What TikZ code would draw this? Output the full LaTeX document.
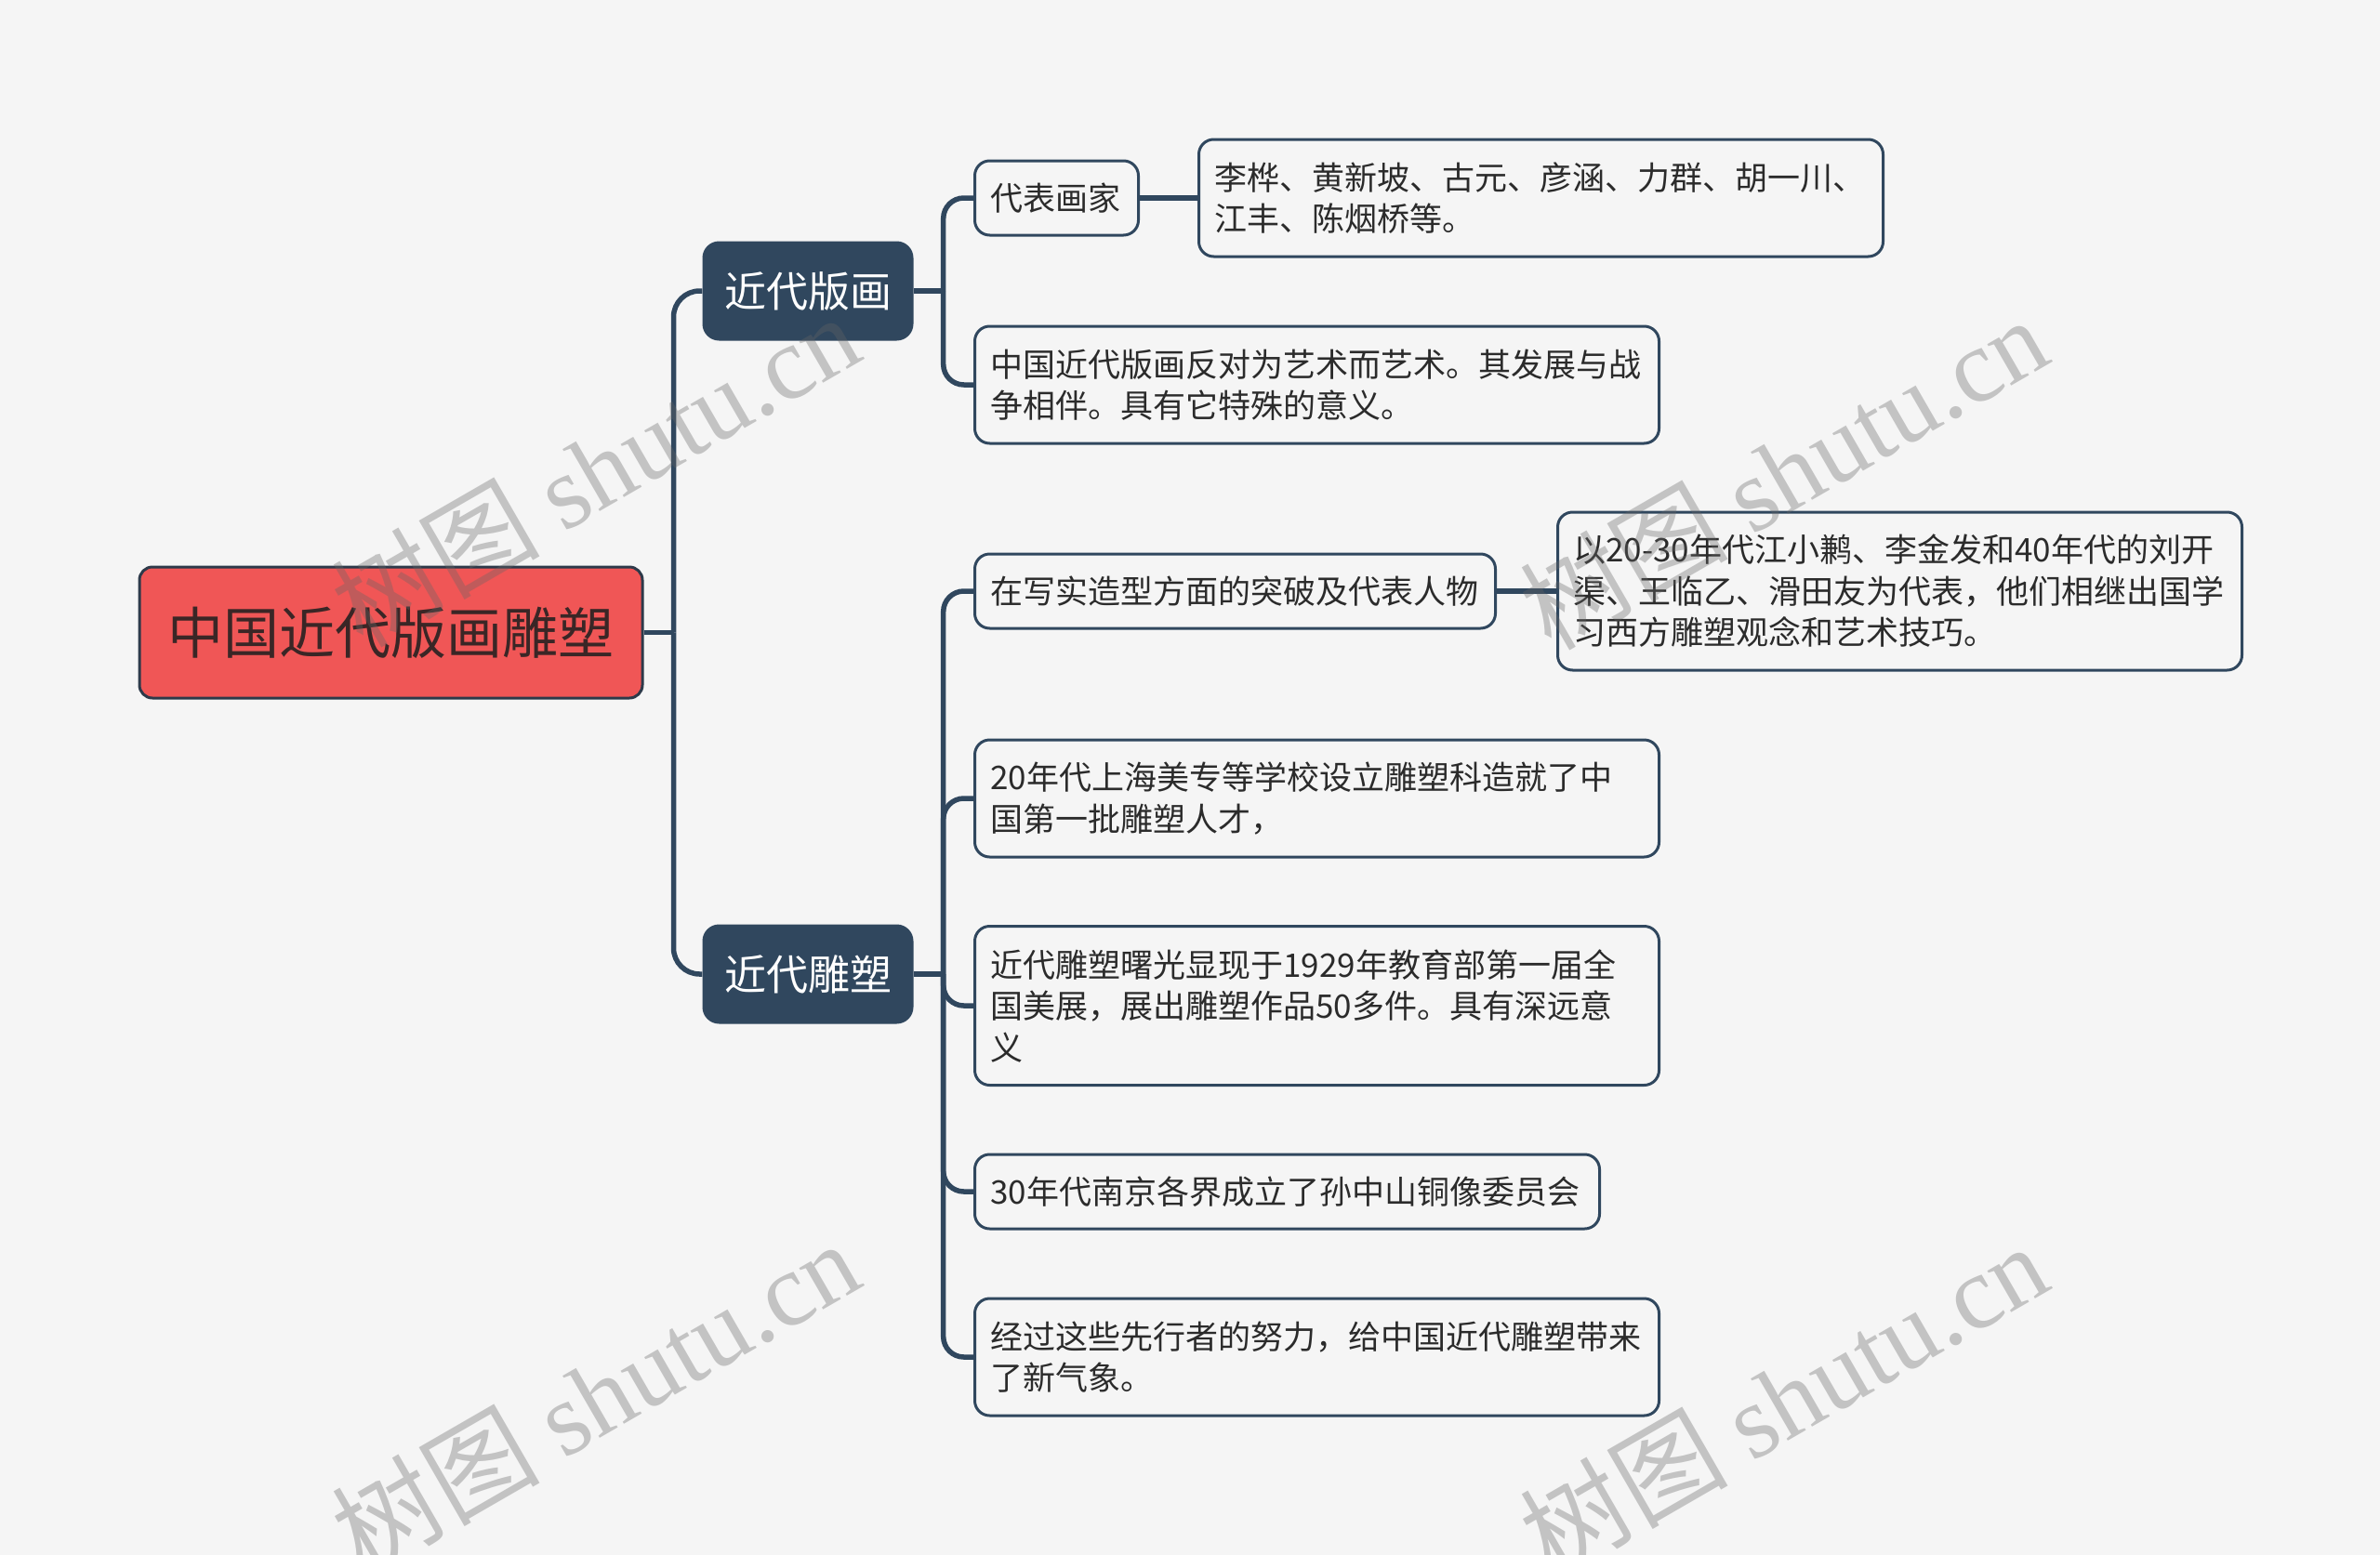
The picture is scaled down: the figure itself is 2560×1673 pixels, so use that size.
\documentclass[tikz,border=0pt]{standalone}
\usepackage{fontspec}
\setmainfont{Noto Sans CJK SC}
\newfontfamily\wmlatin{Liberation Serif}
\newfontfamily\wmcjk{Noto Sans CJK SC}
\definecolor{bgc}{HTML}{F5F5F5}
\definecolor{navy}{HTML}{30475E}
\definecolor{rootred}{HTML}{F05656}
\definecolor{rootline}{HTML}{2E3A4A}
\definecolor{roottext}{HTML}{3A2626}
\definecolor{leaftext}{HTML}{2B2B2B}
\pgfdeclarelayer{bglayer}
\pgfdeclarelayer{edges}
\pgfsetlayers{bglayer,edges,main}
\tikzset{
  rootbox/.style={draw=rootline, line width=3pt, fill=rootred, rounded corners=14pt,
    text=roottext, font=\fontsize{60}{72}\selectfont, inner sep=0pt,
    minimum width=541pt, minimum height=141pt},
  branchbox/.style={fill=navy, rounded corners=18pt, text=white,
    font=\fontsize{45}{54}\selectfont, inner sep=0pt,
    minimum width=227pt, minimum height=107pt},
  leafbox/.style={draw=navy, line width=3pt, fill=bgc, rounded corners=16pt,
    text=leaftext, font=\fontsize{35}{44.5}\selectfont, align=left, anchor=west,
    inner xsep=17pt, inner ysep=0pt},
  conn/.style={draw=navy, line width=5.5pt},
  wm/.style={text=black!60, opacity=0.35, font=\fontsize{112}{120}\selectfont, rotate=30}
}
\begin{document}
\begin{tikzpicture}[x=1pt,y=-1pt]
\begin{pgfonlayer}{bglayer}
\fill[bgc] (0,0) rectangle (2560,1673);
\end{pgfonlayer}
\useasboundingbox (0,0) rectangle (2560,1673);

% root and branches
\node[rootbox] (root) at (420.5,680.5) {中国近代版画雕塑};
\node[branchbox] (b1) at (869,313) {近代版画};
\node[branchbox] (b2) at (869,1048) {近代雕塑};

% leaves of branch 1
\node[leafbox, minimum width=176pt, minimum height=80pt, text width=142pt] (l1) at (1047,213) {代表画家};
\node[leafbox, minimum width=736pt, minimum height=126pt, text width=702pt] (l1a) at (1288,213)
  {李桦、黄新坡、古元、彦涵、力群、胡一川、\\江丰、陈烟桥等。};
\node[leafbox, minimum width=736pt, minimum height=126pt, text width=702pt] (l2) at (1047,414)
  {中国近代版画反对为艺术而艺术。其发展与战\\争相伴。具有它特殊的意义。};

% leaves of branch 2
\node[leafbox, minimum width=560pt, minimum height=80pt, text width=526pt] (m1) at (1047,636)
  {在写实造型方面的突破及代表人物};
\node[leafbox, minimum width=736pt, minimum height=170pt, text width=702pt] (m1a) at (1674,636)
  {以20-30年代江小鹣、李金发和40年代的刘开\\渠、王临乙、滑田友为代表，他们相继出国学\\习西方雕塑观念和艺术技巧。};
\node[leafbox, minimum width=736pt, minimum height=126pt, text width=702pt] (m2) at (1047,859)
  {20年代上海美专等学校设立雕塑科造就了中\\国第一批雕塑人才，};
\node[leafbox, minimum width=736pt, minimum height=171pt, text width=702pt] (m3) at (1047,1082)
  {近代雕塑曙光显现于1929年教育部第一届全\\国美展，展出雕塑作品50多件。具有深远意\\义};
\node[leafbox, minimum width=672pt, minimum height=80pt, text width=638pt] (m4) at (1047,1282)
  {30年代南京各界成立了孙中山铜像委员会};
\node[leafbox, minimum width=736pt, minimum height=126pt, text width=702pt] (m5) at (1047,1460)
  {经过这些先行者的努力，给中国近代雕塑带来\\了新气象。};

% connectors
\begin{pgfonlayer}{edges}
\draw[conn] (root.east) -- ++(32,0) coordinate (j0);
\draw[conn, rounded corners=28pt] (j0) |- (b1.west);
\draw[conn, rounded corners=28pt] (j0) |- (b2.west);
\draw[conn] (b1.east) -- ++(32,0) coordinate (j1);
\foreach \c in {l1,l2}{\draw[conn, rounded corners=22pt] (j1) |- (\c.west);}
\draw[conn] (b2.east) -- ++(32,0) coordinate (j2);
\foreach \c in {m1,m2,m3,m4,m5}{\draw[conn, rounded corners=22pt] (j2) |- (\c.west);}
\draw[conn] (l1.east) -- (l1a.west);
\draw[conn] (m1.east) -- (m1a.west);
\end{pgfonlayer}

% watermarks
\node[wm] (w1) at (640,505) {{\wmcjk 树图} {\wmlatin shutu.cn}};
\node[wm] (w2) at (1918,508) {{\wmcjk 树图} {\wmlatin shutu.cn}};
\node[wm] (w3) at (640,1502) {{\wmcjk 树图} {\wmlatin shutu.cn}};
\node[wm] (w4) at (1918,1505) {{\wmcjk 树图} {\wmlatin shutu.cn}};
\end{tikzpicture}
\end{document}
